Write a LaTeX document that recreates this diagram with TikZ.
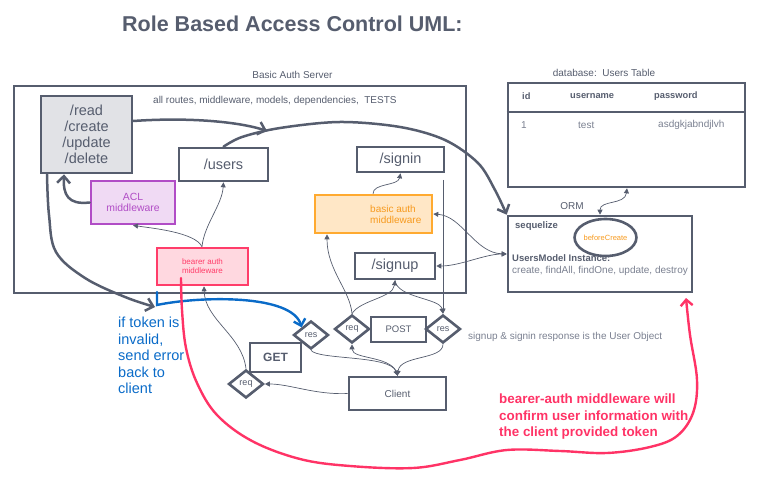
\documentclass[tikz,border=0pt]{standalone}
\usepackage{fontspec}
\setmainfont{Liberation Sans}
\usetikzlibrary{arrows.meta,shapes.geometric}
\definecolor{slate}{HTML}{565D6E}
\definecolor{lightslate}{HTML}{7A8090}
\definecolor{readfill}{HTML}{E1E2E6}
\definecolor{aclfill}{HTML}{F0DAF4}
\definecolor{acldraw}{HTML}{B14DC6}
\definecolor{bearerfill}{HTML}{FFD8E0}
\definecolor{bearerdraw}{HTML}{FF3D6A}
\definecolor{basicfill}{HTML}{FFE7C6}
\definecolor{basicdraw}{HTML}{FFAA30}
\definecolor{basictext}{HTML}{F79A1E}
\definecolor{tokenblue}{HTML}{0A6BC8}
\definecolor{accentred}{HTML}{FF3366}
\newcommand\fsz[2]{\fontsize{#1}{#2}\selectfont}
\begin{document}
\begin{tikzpicture}[x=1pt,y=-1pt,
  box/.style={draw=slate,line width=2.6pt,inner sep=0pt,align=center,text=slate},
  dmd/.style={diamond,draw=slate,fill=white,line width=2.6pt,inner sep=0pt,minimum width=35pt,minimum height=28pt,text=slate,font=\fsz{9}{10}},
  lbl/.style={inner sep=0pt,text=slate,font=\fsz{10}{12}},
  conn/.style={draw=slate,line width=0.7pt,-{Triangle[length=5pt,width=5pt]}},
  connboth/.style={draw=slate,line width=0.7pt,{Triangle[length=5pt,width=5pt]}-{Triangle[length=5pt,width=5pt]}},
  heavy/.style={draw=slate,line width=2.5pt,line cap=round,-{Straight Barb[length=7pt,width=13pt]}},
  handred/.style={draw=accentred,line width=2.4pt,line cap=round,-{Straight Barb[length=6pt,width=12pt]}},
  handblue/.style={draw=tokenblue,line width=2.4pt,line cap=round,-{Straight Barb[length=6pt,width=12pt]}},
]
\useasboundingbox (0,0) rectangle (765,494);

% ---------- server ----------
\node[box, minimum width=452pt, minimum height=207pt] (server) at (240,189.5) {};
\node[box, fill=readfill, minimum width=91pt, minimum height=77pt, font=\fsz{14.5}{16}] (read) at (86.5,134.5) {/read\\/create\\/update\\/delete};
\node[box, minimum width=89pt, minimum height=33pt, font=\fsz{14.5}{16}] (users) at (223.5,164.5) {/users};
\node[box, draw=acldraw, fill=aclfill, text=acldraw, minimum width=84pt, minimum height=43pt, font=\fsz{10.4}{11}] (acl) at (133,202.5) {ACL\\middleware};
\node[box, draw=bearerdraw, fill=bearerfill, text=bearerdraw, minimum width=91pt, minimum height=37pt, font=\fsz{8}{9}] (bearer) at (202.5,266.5) {bearer auth\\middleware};
\node[box, minimum width=87pt, minimum height=25pt, font=\fsz{14.5}{16}] (signin) at (400.5,159.5) {/signin};
\node[box, draw=basicdraw, fill=basicfill, minimum width=117pt, minimum height=38pt] (basic) at (373.5,214) {};
\node[lbl, text=basictext, font=\fsz{10}{11}, align=left, anchor=west] (basictxt) at (370,214) {basic auth\\middleware};
\node[box, minimum width=80pt, minimum height=26pt, font=\fsz{14.5}{16}] (signup) at (395,266) {/signup};

% ---------- database ----------
\node[box, minimum width=237pt, minimum height=104pt] (table) at (626.5,135) {};
\draw[slate, line width=2.6pt] (table.west |- 0,112) -- (table.east |- 0,112);
\node[lbl, font=\bfseries\fsz{9.3}{11}, anchor=west] (hid) at (522,96) {id};
\node[lbl, font=\bfseries\fsz{9.3}{11}, anchor=west] (husr) at (570,96) {username};
\node[lbl, font=\bfseries\fsz{9.3}{11}, anchor=west] (hpw) at (654,96) {password};
\node[lbl, text=lightslate, anchor=west] (rid) at (521,125) {1};
\node[lbl, text=lightslate, anchor=west] (rusr) at (578,125) {test};
\node[lbl, text=lightslate, anchor=west] (rpw) at (658,125) {asdgkjabndjlvh};

\node[box, minimum width=184pt, minimum height=76pt] (seq) at (600,254) {};
\node[ellipse, draw=slate, line width=2.6pt, minimum width=55pt, minimum height=37pt, inner sep=0pt, text=basictext, font=\fsz{7.5}{8}] (hook) at (605.5,237.5) {beforeCreate};
\node[lbl, font=\bfseries\fsz{9.5}{11}, anchor=west] (seqlbl) at (515,226) {sequelize};
\node[lbl, font=\bfseries\fsz{9.5}{11}, anchor=west] (umi) at (512,258) {UsersModel Instance:};
\node[lbl, text=lightslate, anchor=west] (meth) at (512,271) {create, findAll, findOne, update, destroy};

% ---------- client side ----------
\node[box, minimum width=51pt, minimum height=29pt, font=\bfseries\fsz{12}{14}] (get) at (275.5,357.5) {GET};
\node[dmd] (resG) at (311,335) {res};
\node[dmd] (reqG) at (246,384) {req};
\node[box, minimum width=97pt, minimum height=33pt, font=\fsz{10}{12}] (client) at (397.5,393.5) {Client};
\node[box, minimum width=55pt, minimum height=25pt, font=\fsz{9.5}{11}] (post) at (398.5,329.5) {POST};
\node[dmd] (reqP) at (352,329) {req};
\node[dmd] (resP) at (443,329) {res};

% ---------- labels ----------
\node[lbl, font=\bfseries\fsz{21.5}{24}, anchor=west] (title) at (122,24) {Role Based Access Control UML:};
\node[lbl] (srvlbl) at (292.5,75) {Basic Auth Server};
\node[lbl, anchor=west] (allroutes) at (153,101) {all routes, middleware, models, dependencies,\ \ TESTS};
\node[lbl] (dblbl) at (604,73) {database:\ \ Users Table};
\node[lbl] (orm) at (572,206) {ORM};
\node[lbl, text=lightslate, anchor=west] (note) at (468,337) {signup \& signin response is the User Object};
\node[lbl, text=tokenblue, font=\fsz{14.5}{16.5}, align=left, anchor=north west] (bluetxt) at (118,317) {if token is\\invalid,\\send error\\back to\\client};
\node[lbl, text=accentred, font=\bfseries\fsz{13.4}{16.5}, align=left, anchor=north west] (redtxt) at (499,394) {bearer-auth middleware will\\confirm user information with\\the client provided token};

% ---------- heavy arrows ----------
\coordinate (merge) at (267,131);
\draw[heavy] (read.east |- 0,121) .. controls (190,117) and (240,122) .. (merge);
\draw[heavy] plot[smooth, tension=0.55] coordinates {(users.north) (242,137) (280,128) (340,122) (400,127) (445,140) (478,163) (495,190) (seq.north west)};
\draw[heavy] (acl.west) .. controls (68,205) and (63,195) .. (read.south -| 64,0);
\coordinate (tokenErr) at (155,307);
\draw[heavy] plot[smooth, tension=0.6] coordinates {(read.south -| 47,0) (49,215) (56,252) (85,278) (125,297) (tokenErr)};

% ---------- thin connectors ----------
\draw[conn] (bearer.north -| 202,0) .. controls (195,232) and (150,228) .. (acl.south);
\draw[conn] (bearer.north -| 202,0) .. controls (204,225) and (222,205) .. (users.south);
\draw[conn] (reqG.north) .. controls (242,335) and (205,320) .. (bearer.south -| 204,0);
\draw[conn] (client.west) .. controls (315,395) and (290,384) .. (reqG.east);
\draw[conn] (resG.south) .. controls (318,360) and (390,355) .. (client.north);
\draw[conn] (resP.south) .. controls (443,360) and (400,355) .. (client.north);
\draw[conn] (client.north) .. controls (395,355) and (352,360) .. (reqP.south);
\draw[conn] (reqP.north) .. controls (350,290) and (327,270) .. (basic.south -| 327,0);
\draw[conn] (reqP.north) .. controls (360,300) and (393,298) .. (signup.south);
\draw[conn] (signup.south) .. controls (397,298) and (440,298) .. (resP.north);
\coordinate (sigtail) at (443,180);
\draw[conn] (sigtail) -- (resP.north);
\draw[conn] (basic.north -| 373,0) .. controls (373,183) and (398,186) .. (signin.south);
\draw[connboth] (seq.west) .. controls (475,253) and (462,216) .. (basic.east);
\draw[connboth] (seq.west) .. controls (485,254) and (460,266) .. (signup.east);
\draw[connboth] (table.south -| 627,0) .. controls (625,205) and (600,200) .. (seq.north);

% ---------- hand-drawn annotations ----------
\coordinate (blueStart) at (157,292);
\draw[handblue] (blueStart) -- (157,305) .. controls (200,296) and (292,294) .. (resG.north west);
\coordinate (redStart) at (181,278);
\coordinate (redEnd) at (686,298);
\draw[handred] plot[smooth, tension=0.6] coordinates {(redStart) (182,310) (186,348) (197,383) (217,415) (252,441) (300,459) (350,466) (413,468) (460,460) (507,450) (560,451) (607,453) (650,447) (677,436) (693,413) (697,380) (690,335) (redEnd)};
\end{tikzpicture}
\end{document}
